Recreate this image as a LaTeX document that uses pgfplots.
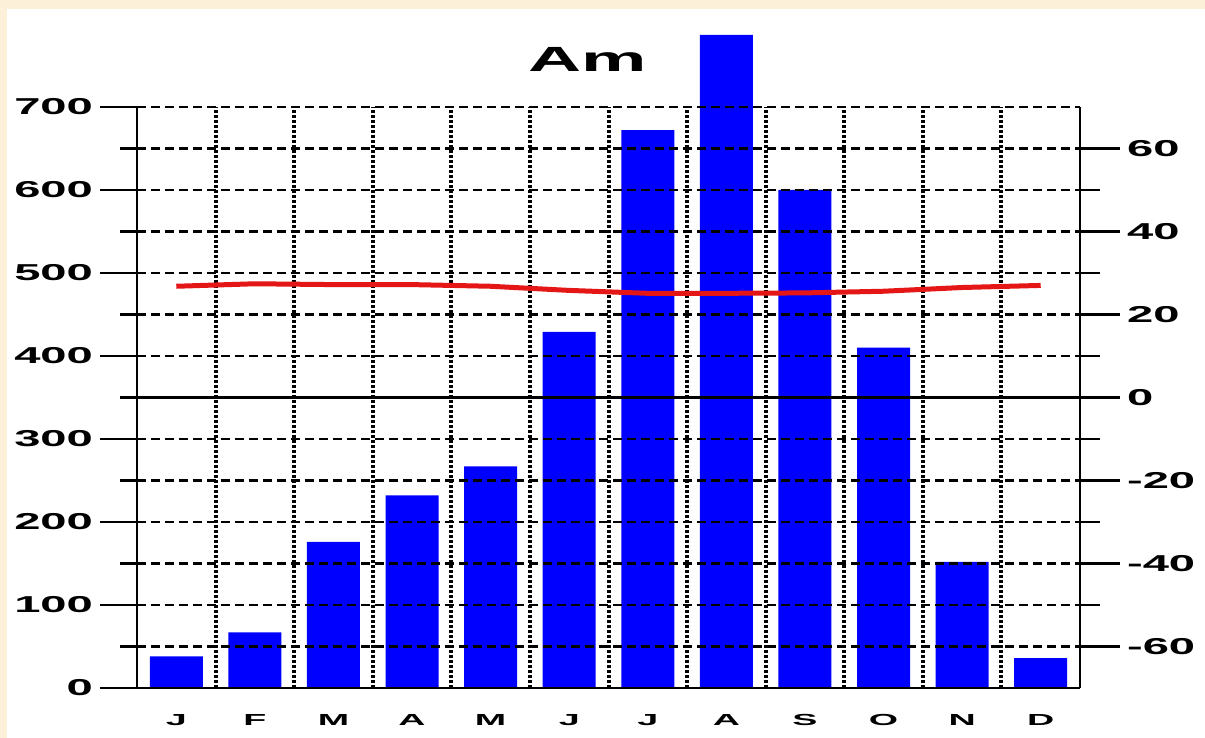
\documentclass[border=0pt]{standalone}
\usepackage{fontspec}
\setmainfont{Liberation Sans}
\usepackage{graphicx}
\usepackage{pgfplots}
\pgfplotsset{compat=1.18}

\definecolor{cream}{RGB}{253,240,216}
\definecolor{barblue}{RGB}{0,0,255}
\definecolor{tempred}{RGB}{228,22,22}

% the source picture is stretched sideways, so is its lettering
\newcommand{\numlab}[1]{\scalebox{2.05}[1]{\bfseries\fontsize{11.5}{12}\selectfont #1}}
\newcommand{\mlab}[1]{\scalebox{2.35}[1]{\bfseries\fontsize{8}{9}\selectfont #1}}

\begin{document}
\begin{tikzpicture}
\fill[cream] (-68.5pt,-25pt) rectangle (534pt,344pt);
\fill[white] (-65pt,-25pt) rectangle (534pt,339.5pt);

% precipitation (left axis)
\begin{axis}[
    at={(0,0)}, anchor=south west,
    scale only axis, width=471.5pt, height=290.5pt,
    xmin=0, xmax=12, ymin=0, ymax=700,
    clip=false, axis on top,
    axis x line=bottom, axis y line=left,
    axis line style={-, black, line width=1.4pt},
    xtick={0.5,1.5,...,11.5},
    xticklabels={\mlab{J},\mlab{F},\mlab{M},\mlab{A},\mlab{M},\mlab{J},
                 \mlab{J},\mlab{A},\mlab{S},\mlab{O},\mlab{N},\mlab{D}},
    minor xtick={1,2,...,11},
    xminorgrids=true,
    xtick style={draw=none}, minor x tick style={draw=none},
    xticklabel style={anchor=north, yshift=9pt},
    ytick={0,100,...,700}, minor ytick={50,150,...,650},
    ymajorgrids=true, yminorgrids=true,
    major y grid style={black, line width=1.1pt, dash pattern=on 4.5pt off 2.5pt},
    minor y grid style={black, line width=1.1pt, dash pattern=on 4.5pt off 2.5pt},
    minor x grid style={black, line width=2pt, dash pattern=on 1.5pt off 1pt},
    tick align=outside,
    ytick style={black, line width=1.1pt},
    major tick length=18.5pt, minor tick length=8.5pt,
    /pgf/number format/assume math mode=true,
    yticklabel={\numlab{\pgfmathprintnumber{\tick}}},
    yticklabel style={anchor=east},
]
\addplot[ybar, bar width=0.674, fill=barblue, draw=none] coordinates {
    (0.5,38) (1.5,67) (2.5,176) (3.5,232) (4.5,267) (5.5,429)
    (6.5,672) (7.5,787) (8.5,600) (9.5,410) (10.5,152) (11.5,36)
};
\end{axis}

% temperature (right axis)
\begin{axis}[
    at={(0,0)}, anchor=south west,
    scale only axis, width=471.5pt, height=290.5pt,
    xmin=0, xmax=12, ymin=-70, ymax=70,
    clip=false,
    axis x line=none, axis y line=right,
    axis line style={-, black, line width=1.4pt},
    ytick={-60,-40,...,60}, minor ytick={-50,-30,...,50},
    tick align=outside,
    ytick style={black, line width=1.1pt},
    major tick length=20pt, minor tick length=10pt,
    /pgf/number format/assume math mode=true,
    yticklabel={\numlab{\pgfmathprintnumber{\tick}}},
    yticklabel style={anchor=west},
    title={\scalebox{2.1}[1]{\bfseries\fontsize{17.5}{20}\selectfont Am}},
    title style={at={(0.478,1)}, anchor=base, yshift=11.5pt},
]
\addplot[black, line width=1.2pt, forget plot] coordinates {(0,0) (12,0)};
\addplot[tempred, line width=2.5pt] coordinates {
    (0.5,26.8) (1.5,27.4) (2.5,27.2) (3.5,27.2) (4.5,26.8) (5.5,25.8)
    (6.5,25.1) (7.5,25.1) (8.5,25.2) (9.5,25.6) (10.5,26.5) (11.5,27.0)
};
\end{axis}

\pgfresetboundingbox
\path[use as bounding box] (-68.5pt,-25pt) rectangle (534pt,344pt);
\end{tikzpicture}
\end{document}
